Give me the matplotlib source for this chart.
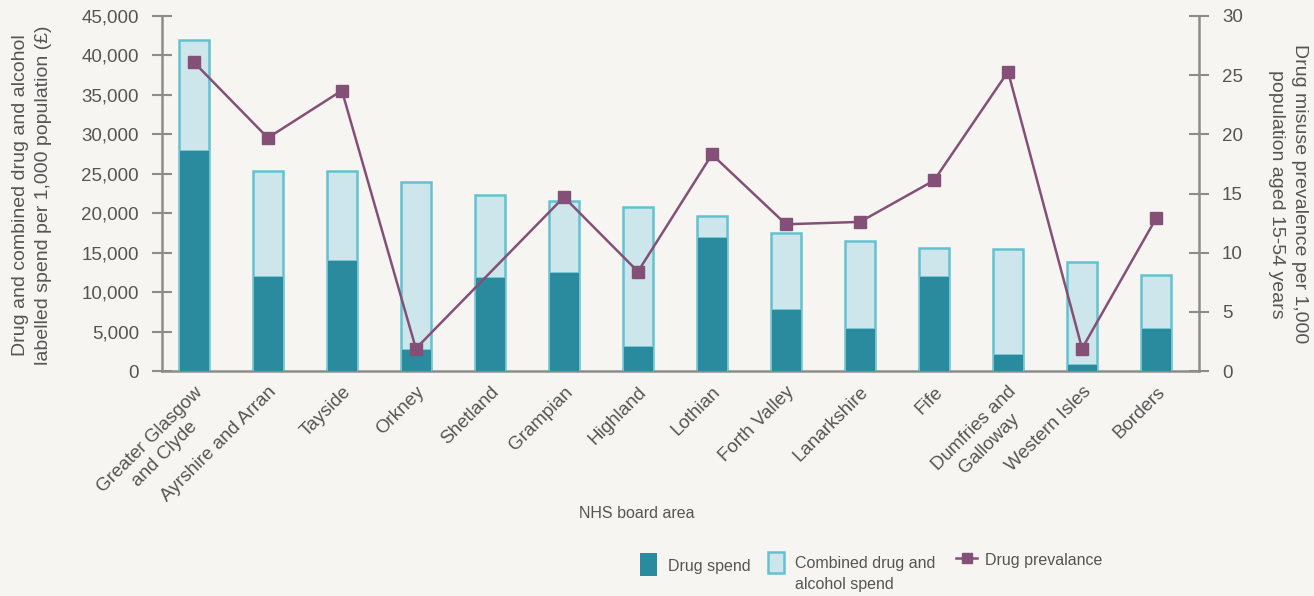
import matplotlib
matplotlib.use("Agg")
import matplotlib.pyplot as plt
import numpy as np
from matplotlib.patches import Rectangle
from matplotlib.lines import Line2D

categories = ["Greater Glasgow\nand Clyde", "Ayrshire and Arran", "Tayside", "Orkney",
              "Shetland", "Grampian", "Highland", "Lothian", "Forth Valley",
              "Lanarkshire", "Fife", "Dumfries and\nGalloway", "Western Isles", "Borders"]
combined_spend = [42000, 25400, 25400, 24000, 22300, 21600, 20800, 19600, 17500,
                  16500, 15600, 15500, 13800, 12200]
drug_spend = [28000, 12000, 14100, 2800, 11900, 12500, 3200, 17000, 7900,
              5400, 12000, 2100, 900, 5400]
prevalence = [26.1, 19.7, 23.7, 1.9, np.nan, 14.7, 8.4, 18.3, 12.4,
              12.6, 16.1, 25.3, 1.9, 12.9]
left_ticks = [0, 5000, 10000, 15000, 20000, 25000, 30000, 35000, 40000, 45000]
right_ticks = [0, 5, 10, 15, 20, 25, 30]

BG = "#f6f5f1"
DARK = "#2a8a9e"
LIGHT = "#cde6eb"
EDGE = "#62c2d0"
PURPLE = "#855078"
AXC = "#8c8c8c"
TXT = "#555555"

plt.rcParams['font.family'] = ['Liberation Sans', 'DejaVu Sans']
plt.rcParams['font.size'] = 13

fig = plt.figure(figsize=(13.14, 5.96), dpi=100, facecolor=BG)
ax = fig.add_axes([162/1314, 1-371/596, (1199-162)/1314, (371-16)/596])
ax.set_facecolor(BG)
x = np.arange(len(categories))
w = 0.41
ax.bar(x, combined_spend, width=w, color=LIGHT, edgecolor=EDGE, linewidth=1.8, zorder=2)
ax.bar(x, drug_spend, width=w, color=DARK, edgecolor="#7ccbd6", linewidth=0.6, zorder=3)
ax.set_xlim(-0.43, 13.58)
ax.set_ylim(0, 45000)
ax.set_yticks(left_ticks)
ax.set_yticklabels([f"{v:,}" for v in left_ticks], color=TXT, fontsize=13.5)
ax.set_xticks(x)
ax.set_xticklabels(categories, rotation=45, ha='right', va='top', rotation_mode='anchor',
                   multialignment='center', color=TXT, fontsize=13.5, linespacing=1.3)
ax.tick_params(axis='x', length=0, pad=9)
ax.tick_params(axis='y', direction='inout', length=15, width=1.5, color=AXC, pad=9)
for s in ['top', 'right']:
    ax.spines[s].set_visible(False)
for s in ['left', 'bottom']:
    ax.spines[s].set_color(AXC)
    ax.spines[s].set_linewidth(1.8)

fig.text(32/1314, 1-195/596,
         "Drug and combined drug and alcohol\nlabelled spend per 1,000 population (£)",
         rotation=90, ha='center', va='center', color=TXT, fontsize=14, linespacing=1.4)

ax2 = ax.twinx()
ax2.set_ylim(0, 30)
ax2.set_yticks(right_ticks)
ax2.set_yticklabels([str(v) for v in right_ticks], color=TXT, fontsize=13.5)
prev = np.array(prevalence)
mask = ~np.isnan(prev)
ax2.plot(x[mask], prev[mask], color=PURPLE, linewidth=1.8, marker='s', markersize=8,
         zorder=5)
ax2.tick_params(axis='y', direction='inout', length=15, width=1.5, color=AXC, pad=9)
for s in ['top', 'left', 'bottom']:
    ax2.spines[s].set_visible(False)
ax2.spines['right'].set_color(AXC)
ax2.spines['right'].set_linewidth(1.8)

fig.text(1288/1314, 1-194/596,
         "Drug misuse prevalence per 1,000\npopulation aged 15-54 years",
         rotation=270, ha='center', va='center', color=TXT, fontsize=14, linespacing=1.4)

fig.text(637/1314, 1-513/596, "NHS board area", ha='center', va='center', color=TXT,
         fontsize=11.5)

# legend
def fx(px):
    return px/1314
def fy(py):
    return 1-py/596
fig.add_artist(Rectangle((fx(640), fy(576)), 17/1314, 23/596, transform=fig.transFigure,
                         facecolor=DARK, edgecolor='none'))
fig.text(fx(668), fy(566), "Drug spend", ha='left', va='center', color=TXT, fontsize=11.5)
fig.add_artist(Rectangle((fx(768), fy(573)), 16/1314, 21/596, transform=fig.transFigure,
                         facecolor=LIGHT, edgecolor=EDGE, linewidth=1.8))
fig.text(fx(795), fy(574), "Combined drug and\nalcohol spend", ha='left', va='center',
         color=TXT, fontsize=11.5, linespacing=1.55)
fig.add_artist(Line2D([fx(956), fx(977)], [fy(558), fy(558)], transform=fig.transFigure,
                      color=PURPLE, linewidth=1.8))
fig.add_artist(Line2D([fx(966.5)], [fy(558)], transform=fig.transFigure,
                      color=PURPLE, marker='s', markersize=6.5, linestyle='none'))
fig.text(fx(985), fy(560), "Drug prevalance", ha='left', va='center', color=TXT,
         fontsize=11.5)

fig.savefig("out.png", dpi=100, facecolor=BG)
